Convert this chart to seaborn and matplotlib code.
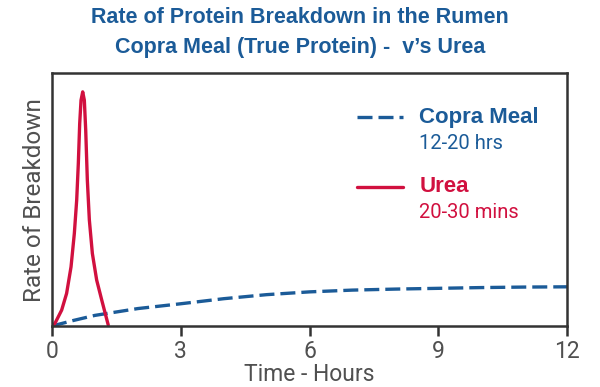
import matplotlib
matplotlib.use("Agg")
import matplotlib.pyplot as plt
import pandas as pd
import seaborn as sns

# values (rate on a 0-100 relative scale)
urea_hours = [0.0, 0.07, 0.225, 0.34, 0.443, 0.52, 0.575, 0.613, 0.645, 0.676, 0.715,
              0.753, 0.785, 0.823, 0.87, 0.94, 1.04, 1.158, 1.31]
urea_rate = [0.0, 1.1, 6.3, 12.9, 23.4, 36.6, 49.8, 64.3, 80.1, 89.3, 92.6,
             89.3, 77.5, 57.7, 41.9, 28.7, 18.2, 10.3, 0.4]

copra_hours = [0, 0.5, 1, 2, 3, 4, 5, 6, 7, 8, 9, 10, 11, 12]
copra_rate = [0, 2.2, 4.2, 6.9, 8.8, 10.8, 12.4, 13.5, 14.2, 14.6, 14.9, 15.2, 15.4, 15.5]

x_ticks = [0, 3, 6, 9, 12]

BLUE = "#1b5b98"
RED = "#d1103f"
GREY = "#505050"
DASH = (4.5, 1.8)

sns.set_theme(style="white")
plt.rcParams["font.family"] = ["Liberation Sans", "DejaVu Sans"]
plain = ["Roboto", "Liberation Sans", "DejaVu Sans"]

urea = pd.DataFrame({"hours": urea_hours, "rate": urea_rate})
copra = pd.DataFrame({"hours": copra_hours, "rate": copra_rate})

fig = plt.figure(figsize=(6, 3.87), dpi=100)
ax = fig.add_axes([0.0867, 0.1576, 0.8583, 0.6534])

sns.lineplot(data=copra, x="hours", y="rate", ax=ax, color=BLUE, linewidth=2.4)
ax.lines[-1].set_dashes(DASH)
sns.lineplot(data=urea, x="hours", y="rate", ax=ax, color=RED, linewidth=2.4)

ax.set_xlim(0, 12)
ax.set_ylim(0, 100)
ax.set_xticks(x_ticks)
ax.set_yticks([])
ax.tick_params(axis="x", direction="out", length=7, width=1.8, color="#333333",
               labelsize=16.5, labelcolor=GREY, pad=3, bottom=True)
for lbl in ax.get_xticklabels():
    lbl.set_family(plain)
for s in ax.spines.values():
    s.set_color("#333333")
    s.set_linewidth(1.8)
ax.set_xlabel("Time - Hours", fontsize=16.5, color=GREY, labelpad=0, family=plain)
ax.set_ylabel("Rate of Breakdown", fontsize=17.5, color=GREY, labelpad=4, family=plain)

# legend drawn by hand, like the reference
ax.plot([0.592, 0.682], [0.826, 0.826], transform=ax.transAxes, color=BLUE,
        linewidth=2.4, dashes=DASH)
ax.plot([0.592, 0.682], [0.549, 0.549], transform=ax.transAxes, color=RED,
        linewidth=2.4)
ax.text(0.713, 0.826, "Copra Meal", transform=ax.transAxes, color=BLUE,
        fontsize=16, fontweight="bold", va="center")
ax.text(0.713, 0.723, "12-20 hrs", transform=ax.transAxes, color=BLUE,
        fontsize=14.5, va="center", family=plain)
ax.text(0.713, 0.553, "Urea", transform=ax.transAxes, color=RED,
        fontsize=16, fontweight="bold", va="center")
ax.text(0.713, 0.447, "20-30 mins", transform=ax.transAxes, color=RED,
        fontsize=14.5, va="center", family=plain)

fig.text(0.5, 0.956, "Rate of Protein Breakdown in the Rumen", ha="center", va="center",
         fontsize=15.5, fontweight="bold", color=BLUE)
fig.text(0.5, 0.876, "Copra Meal (True Protein) -  v\u2019s Urea", ha="center", va="center",
         fontsize=15.5, fontweight="bold", color=BLUE)

fig.savefig("out.png", dpi=100)
